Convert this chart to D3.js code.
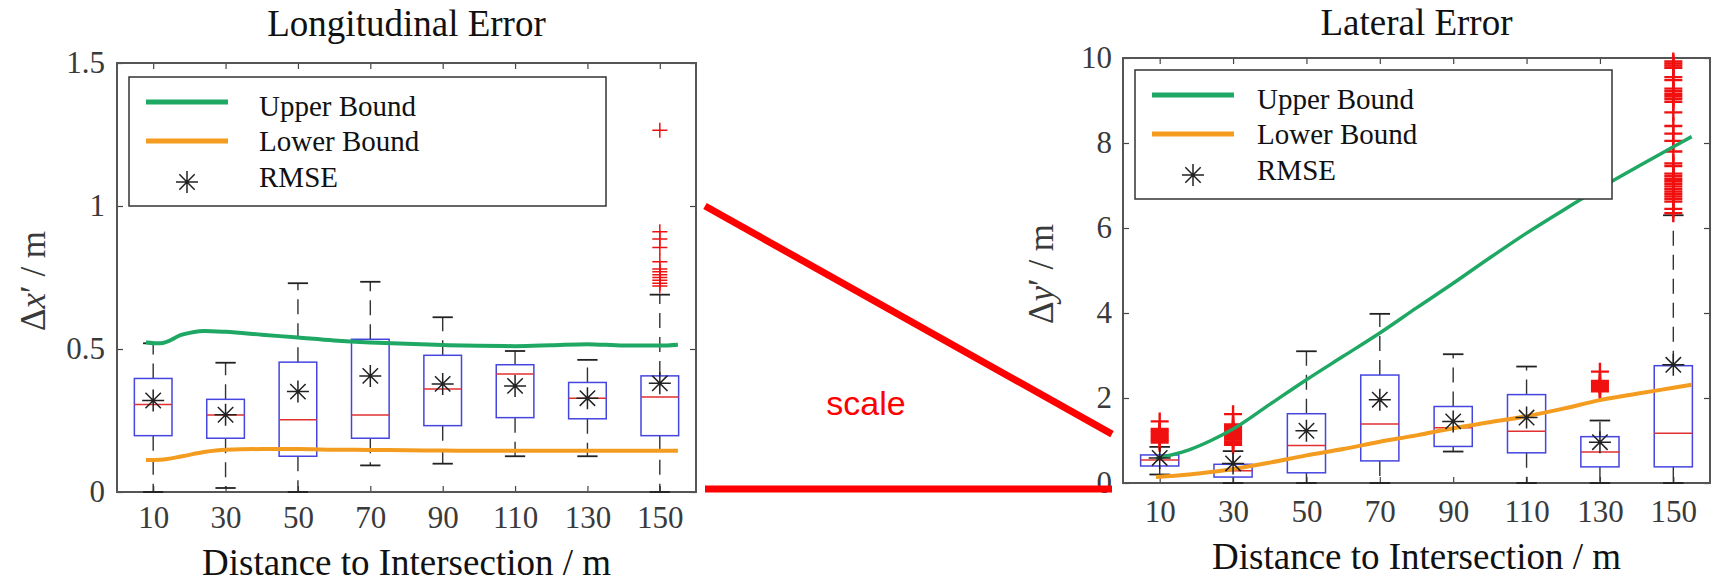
<!DOCTYPE html>
<html>
<head>
<meta charset="utf-8">
<script src="https://cdn.jsdelivr.net/npm/d3@7"></script>
<style>
  body { margin: 0; background: #ffffff; }
  svg { display: block; }
</style>
</head>
<body>
<svg id="chart" width="1715" height="585"></svg>
<script>
const categories = [10, 30, 50, 70, 90, 110, 130, 150];
const legendLabels = ["Upper Bound", "Lower Bound", "RMSE"];

// Longitudinal error (left panel)
const lonTicks = [0, 0.5, 1, 1.5];
const lonLow  = [0.0, 0.014, 0.0, 0.093, 0.099, 0.125, 0.125, 0.0];
const lonQ1   = [0.197, 0.188, 0.125, 0.188, 0.232, 0.26, 0.256, 0.197];
const lonMed  = [0.306, 0.269, 0.253, 0.269, 0.36, 0.413, 0.328, 0.332];
const lonQ3   = [0.397, 0.324, 0.454, 0.534, 0.478, 0.445, 0.383, 0.406];
const lonHigh = [0.52, 0.452, 0.73, 0.735, 0.611, 0.493, 0.462, 0.69];
const lonRmse = [0.32, 0.27, 0.351, 0.406, 0.378, 0.371, 0.328, 0.38];
const lonOutliers = [[], [], [], [], [], [], [],
  [1.265, 0.91, 0.885, 0.855, 0.805, 0.78, 0.77, 0.76, 0.75, 0.74, 0.73, 0.72]];
const lonBoundDist = [8, 12, 18, 24, 30, 40, 50, 60, 70, 80, 90, 100, 110, 120, 130, 140, 150, 155];
const lonUpper = [0.523, 0.52, 0.55, 0.563, 0.56, 0.55, 0.54, 0.53, 0.523, 0.518, 0.514, 0.511, 0.51, 0.513, 0.517, 0.512, 0.512, 0.515];
const lonLower = [0.112, 0.113, 0.125, 0.14, 0.148, 0.15, 0.15, 0.148, 0.147, 0.146, 0.145, 0.144, 0.144, 0.144, 0.144, 0.144, 0.144, 0.144];

// Lateral error (right panel)
const latTicks = [0, 2, 4, 6, 8, 10];
const latLow  = [0.2, 0.0, 0.0, 0.0, 0.74, 0.0, 0.0, 0.0];
const latQ1   = [0.4, 0.14, 0.24, 0.52, 0.86, 0.71, 0.38, 0.38];
const latMed  = [0.54, 0.29, 0.88, 1.39, 1.3, 1.22, 0.73, 1.17];
const latQ3   = [0.66, 0.44, 1.63, 2.54, 1.8, 2.08, 1.09, 2.76];
const latHigh = [0.85, 0.75, 3.1, 3.98, 3.03, 2.74, 1.47, 6.3];
const latRmse = [0.59, 0.46, 1.23, 1.96, 1.45, 1.54, 0.96, 2.78];
const latOutliers = [
  [0.95, 0.99, 1.03, 1.07, 1.11, 1.15, 1.19, 1.23, 1.27, 1.45],
  [0.9, 0.94, 0.98, 1.02, 1.06, 1.1, 1.14, 1.18, 1.22, 1.26, 1.3, 1.34, 1.38, 1.62],
  [], [], [], [],
  [2.16, 2.2, 2.24, 2.28, 2.32, 2.36, 2.4, 2.62],
  [9.92, 9.87, 9.82, 9.77, 9.55, 9.48, 9.28, 9.22, 9.16, 9.1, 9.04, 8.97, 8.72, 8.4, 8.22, 8.05,
   7.8, 7.52, 7.46, 7.28, 7.22, 7.16, 7.1, 7.04, 6.98, 6.92, 6.86, 6.8, 6.74, 6.68, 6.62, 6.45, 6.35]
];
const latBoundDist = [9, 18, 24, 30, 40, 50, 60, 70, 80, 90, 100, 110, 120, 130, 140, 150, 155];
const latUpper = [0.58, 0.78, 1.0, 1.27, 1.85, 2.43, 2.98, 3.53, 4.12, 4.7, 5.3, 5.88, 6.42, 6.94, 7.43, 7.91, 8.15];
const latLower = [0.14, 0.2, 0.26, 0.33, 0.48, 0.65, 0.8, 0.97, 1.12, 1.29, 1.43, 1.57, 1.75, 1.95, 2.1, 2.24, 2.31];

const svg = d3.select("#chart");
const serif = "'Liberation Serif', 'Times New Roman', serif";
const green = "#1fa864";
const orange = "#f39c1f";

function starPath(r) {
  const a = r * 0.7;
  return "M0," + (-r) + "V" + r + "M" + (-r) + ",0H" + r +
    "M" + (-a) + "," + (-a) + "L" + a + "," + a + "M" + (-a) + "," + a + "L" + a + "," + (-a);
}
function plusPath(r) {
  return "M0," + (-r) + "V" + r + "M" + (-r) + ",0H" + r;
}

function drawPanel(p) {
  const x = d3.scaleLinear().domain([0, 160]).range([p.left, p.right]);
  const y = d3.scaleLinear().domain([0, p.yMax]).range([p.bottom, p.top]);
  const g = svg.append("g");
  const step = x(20) - x(0);
  const boxHalf = step * 0.26;
  const capHalf = step * 0.14;

  function styleAxis(sel, showText) {
    sel.select(".domain").remove();
    sel.selectAll(".tick line").attr("stroke", "#444").attr("stroke-width", 1.2);
    sel.selectAll(".tick text")
      .attr("font-family", serif)
      .attr("font-size", 31)
      .attr("fill", "#3a3a3a")
      .style("display", showText ? null : "none");
  }

  g.append("g").attr("transform", "translate(0," + p.bottom + ")")
    .call(d3.axisBottom(x).tickValues(categories).tickSizeInner(-6).tickSizeOuter(0).tickPadding(p.xPad))
    .call(function(s) { styleAxis(s, true); });
  g.append("g").attr("transform", "translate(0," + p.top + ")")
    .call(d3.axisTop(x).tickValues(categories).tickSizeInner(-6).tickSizeOuter(0))
    .call(function(s) { styleAxis(s, false); });
  g.append("g").attr("transform", "translate(" + p.left + ",0)")
    .call(d3.axisLeft(y).tickValues(p.yTicks).tickFormat(d3.format("~g")).tickSizeInner(-6).tickSizeOuter(0).tickPadding(p.yPad))
    .call(function(s) { styleAxis(s, true); });
  g.append("g").attr("transform", "translate(" + p.right + ",0)")
    .call(d3.axisRight(y).tickValues(p.yTicks).tickSizeInner(-6).tickSizeOuter(0))
    .call(function(s) { styleAxis(s, false); });

  g.append("rect")
    .attr("x", p.left).attr("y", p.top)
    .attr("width", p.right - p.left).attr("height", p.bottom - p.top)
    .attr("fill", "none").attr("stroke", "#555").attr("stroke-width", 2);

  const rows = categories.map(function(c, i) {
    return { c: c, low: p.low[i], q1: p.q1[i], med: p.med[i], q3: p.q3[i], high: p.high[i], rmse: p.rmse[i], out: p.outliers[i] };
  });

  const box = g.selectAll(".box").data(rows).join("g").attr("class", "box");
  // whiskers
  box.append("line")
    .attr("x1", function(d) { return x(d.c); }).attr("x2", function(d) { return x(d.c); })
    .attr("y1", function(d) { return y(d.q3); }).attr("y2", function(d) { return y(d.high); })
    .attr("stroke", "#333").attr("stroke-width", 1.4).attr("stroke-dasharray", "15,9");
  box.append("line")
    .attr("x1", function(d) { return x(d.c); }).attr("x2", function(d) { return x(d.c); })
    .attr("y1", function(d) { return y(d.q1); }).attr("y2", function(d) { return y(d.low); })
    .attr("stroke", "#333").attr("stroke-width", 1.4).attr("stroke-dasharray", "15,9");
  ["high", "low"].forEach(function(k) {
    box.append("line")
      .attr("x1", function(d) { return x(d.c) - capHalf; }).attr("x2", function(d) { return x(d.c) + capHalf; })
      .attr("y1", function(d) { return y(d[k]); }).attr("y2", function(d) { return y(d[k]); })
      .attr("stroke", "#222").attr("stroke-width", 1.8);
  });
  box.append("rect")
    .attr("x", function(d) { return x(d.c) - boxHalf; })
    .attr("y", function(d) { return y(d.q3); })
    .attr("width", boxHalf * 2)
    .attr("height", function(d) { return y(d.q1) - y(d.q3); })
    .attr("fill", "none").attr("stroke", "#4545e0").attr("stroke-width", 1.5);
  box.append("line")
    .attr("x1", function(d) { return x(d.c) - boxHalf; }).attr("x2", function(d) { return x(d.c) + boxHalf; })
    .attr("y1", function(d) { return y(d.med); }).attr("y2", function(d) { return y(d.med); })
    .attr("stroke", "#e03030").attr("stroke-width", 1.5);

  // outliers
  rows.forEach(function(d) {
    g.selectAll(null).data(d.out).join("path")
      .attr("transform", function(v) { return "translate(" + x(d.c) + "," + y(v) + ")"; })
      .attr("d", plusPath(p.plusR))
      .attr("stroke", "#f01010").attr("stroke-width", p.plusW).attr("fill", "none");
  });

  // bound curves
  const line = d3.line()
    .x(function(d) { return x(d[0]); })
    .y(function(d) { return y(d[1]); })
    .curve(d3.curveMonotoneX);
  g.append("path").attr("d", line(d3.zip(p.boundDist, p.upper)))
    .attr("fill", "none").attr("stroke", green).attr("stroke-width", p.upperW);
  g.append("path").attr("d", line(d3.zip(p.boundDist, p.lower)))
    .attr("fill", "none").attr("stroke", orange).attr("stroke-width", 4);

  // RMSE stars
  g.selectAll(".rmse").data(rows).join("path").attr("class", "rmse")
    .attr("transform", function(d) { return "translate(" + x(d.c) + "," + y(d.rmse) + ")"; })
    .attr("d", starPath(11))
    .attr("stroke", "#222").attr("stroke-width", 1.5).attr("fill", "none");

  // legend
  const lg = g.append("g").attr("transform", "translate(" + p.legX + "," + p.legY + ")");
  lg.append("rect").attr("width", 477).attr("height", 129)
    .attr("fill", "#fff").attr("stroke", "#333").attr("stroke-width", 1.5);
  lg.append("line").attr("x1", 17).attr("x2", 99).attr("y1", 25).attr("y2", 25)
    .attr("stroke", green).attr("stroke-width", 5);
  lg.append("line").attr("x1", 17).attr("x2", 99).attr("y1", 64).attr("y2", 64)
    .attr("stroke", orange).attr("stroke-width", 5);
  lg.append("path").attr("transform", "translate(58,105)").attr("d", starPath(11))
    .attr("stroke", "#222").attr("stroke-width", 1.5).attr("fill", "none");
  lg.selectAll("text").data(legendLabels).join("text")
    .attr("x", p.legTextX)
    .attr("y", function(d, i) { return [39, 74, 110][i]; })
    .attr("font-family", serif).attr("font-size", 29).attr("fill", "#111")
    .text(function(d) { return d; });

  // titles
  const cx = (p.left + p.right) / 2;
  g.append("text").attr("x", cx).attr("y", p.titleY).attr("text-anchor", "middle")
    .attr("font-family", serif).attr("font-size", 37).attr("fill", "#111").text(p.title);
  g.append("text").attr("x", cx).attr("y", p.xLabelY).attr("text-anchor", "middle")
    .attr("font-family", serif).attr("font-size", 37).attr("fill", "#111").text("Distance to Intersection / m");
  const yl = g.append("text")
    .attr("transform", "translate(" + p.yLabelX + "," + p.yLabelY + ") rotate(-90)")
    .attr("text-anchor", "middle")
    .attr("font-family", serif).attr("font-size", 35).attr("fill", "#3a3a3a");
  yl.append("tspan").text("\u0394");
  yl.append("tspan").attr("font-style", "italic").text(p.yVar);
  yl.append("tspan").text("\u2032  /  m");

  return { x: x, y: y };
}

const lon = drawPanel({
  left: 117, right: 696, top: 63, bottom: 492, yMax: 1.5, yTicks: lonTicks,
  xPad: 14, yPad: 12,
  low: lonLow, q1: lonQ1, med: lonMed, q3: lonQ3, high: lonHigh, rmse: lonRmse, outliers: lonOutliers,
  boundDist: lonBoundDist, upper: lonUpper, lower: lonLower, upperW: 4,
  plusR: 7.5, plusW: 1.5,
  legX: 129, legY: 77, legTextX: 130,
  title: "Longitudinal Error", titleY: 36, xLabelY: 575, yLabelX: 45, yLabelY: 281, yVar: "x"
});

const lat = drawPanel({
  left: 1123, right: 1710, top: 58, bottom: 483, yMax: 10, yTicks: latTicks,
  xPad: 17, yPad: 11,
  low: latLow, q1: latQ1, med: latMed, q3: latQ3, high: latHigh, rmse: latRmse, outliers: latOutliers,
  boundDist: latBoundDist, upper: latUpper, lower: latLower, upperW: 3.5,
  plusR: 9, plusW: 2.4,
  legX: 1135, legY: 70, legTextX: 122,
  title: "Lateral Error", titleY: 35, xLabelY: 569, yLabelX: 1053, yLabelY: 274, yVar: "y"
});

// "scale" annotation linking the two panels
const ann = svg.append("g");
ann.append("line")
  .attr("x1", 705).attr("y1", lon.y(1))
  .attr("x2", 1112).attr("y2", lat.y(1.15))
  .attr("stroke", "#ff0000").attr("stroke-width", 7);
ann.append("line")
  .attr("x1", 705).attr("y1", 489)
  .attr("x2", 1112).attr("y2", 489)
  .attr("stroke", "#ff0000").attr("stroke-width", 7);
ann.append("text").attr("x", 866).attr("y", 415).attr("text-anchor", "middle")
  .attr("font-family", "'Liberation Sans', Arial, sans-serif").attr("font-size", 34)
  .attr("fill", "#ff0000").text("scale");
</script>
</body>
</html>
